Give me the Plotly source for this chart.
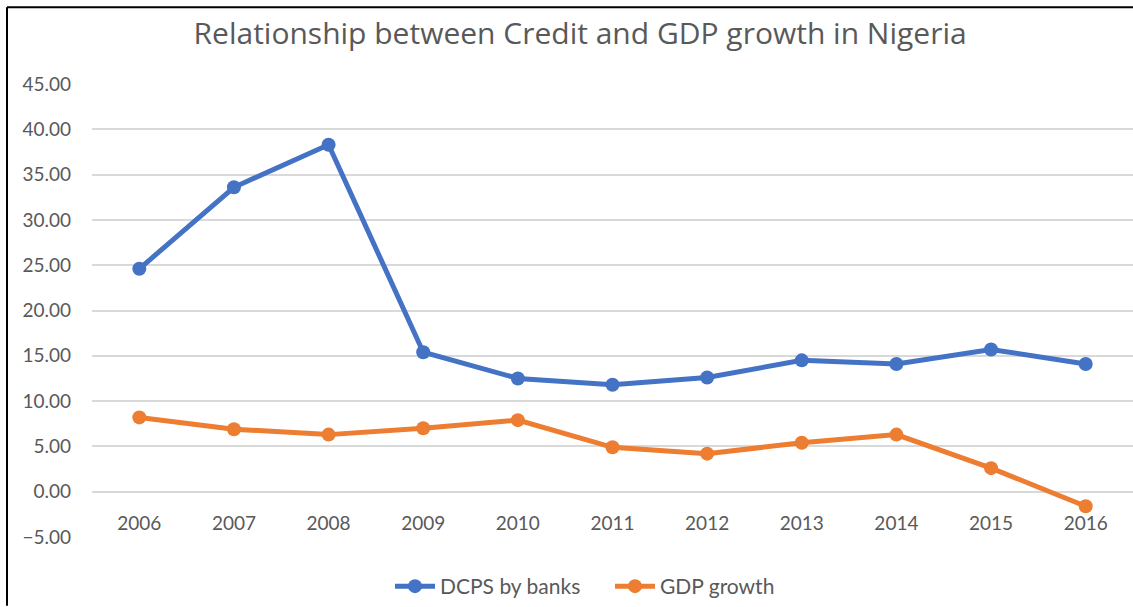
import plotly.graph_objects as go

years = ["2006", "2007", "2008", "2009", "2010", "2011", "2012", "2013", "2014", "2015", "2016"]
dcps = [24.6, 33.6, 38.3, 15.4, 12.5, 11.8, 12.6, 14.5, 14.1, 15.7, 14.1]
gdp = [8.2, 6.9, 6.3, 7.0, 7.9, 4.9, 4.2, 5.4, 6.3, 2.6, -1.6]
y_ticks = [-5, 0, 5, 10, 15, 20, 25, 30, 35, 40, 45]

FONT = "Lato"
GRAY = "#595959"

fig = go.Figure()
fig.add_trace(go.Scatter(x=years, y=dcps, name="DCPS by banks", mode="lines+markers",
                         line=dict(color="#4472C4", width=5),
                         marker=dict(color="#4472C4", size=14)))
fig.add_trace(go.Scatter(x=years, y=gdp, name="GDP growth", mode="lines+markers",
                         line=dict(color="#ED7D31", width=5),
                         marker=dict(color="#ED7D31", size=14)))

fig.update_layout(
    width=1133, height=607,
    margin=dict(l=92, r=0, t=84, b=69),
    paper_bgcolor="white", plot_bgcolor="white",
    font=dict(family=FONT, color=GRAY),
    title=dict(text="Relationship between Credit and GDP growth in Nigeria",
               x=0.512, xanchor="center", y=1 - 33 / 607, yanchor="middle",
               font=dict(family="Open Sans", size=30, color=GRAY)),
    xaxis=dict(type="category", range=[-0.5, 10.5], anchor="free", position=0.1,
               showgrid=False, showline=False, zeroline=False, ticks="",
               tickfont=dict(size=19, color=GRAY), ticklabelstandoff=18),
    yaxis=dict(range=[-5, 45], tickvals=y_ticks, tickformat=".2f",
               showgrid=True, gridcolor="#D9D9D9", gridwidth=1.5,
               zeroline=False, showline=False, ticks="",
               tickfont=dict(size=19, color=GRAY), ticklabelstandoff=20),
    legend=dict(orientation="h", x=0.4976, xanchor="center", y=-0.11, yanchor="middle",
                font=dict(size=21, color=GRAY), itemwidth=40,
                entrywidth=165, entrywidthmode="pixels"),
    showlegend=True,
    shapes=[
        dict(type="line", xref="paper", yref="paper", x0=-85 / 1041, x1=1.0,
             y0=1 + 77 / 454.3, y1=1 + 77 / 454.3, line=dict(color="black", width=2)),
        dict(type="line", xref="paper", yref="paper", x0=-85 / 1041, x1=-85 / 1041,
             y0=1 + 77 / 454.3, y1=-69 / 454.3, line=dict(color="black", width=2)),
    ],
)

fig.write_html("out.html")
